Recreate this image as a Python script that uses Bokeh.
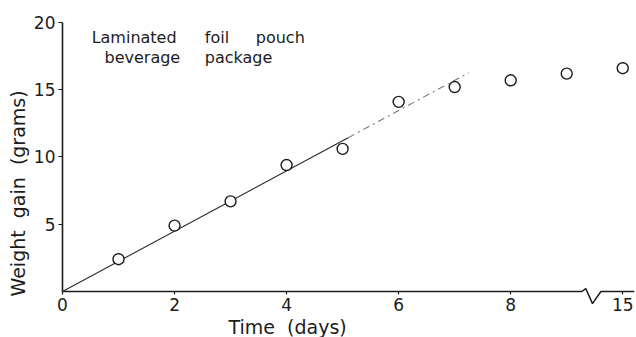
import numpy as np
from bokeh.plotting import figure
from bokeh.models import FixedTicker, Label, Range1d, Title
from bokeh.embed import file_html
from bokeh.resources import INLINE

# Weight gain of the laminated foil pouch over time
days = [1, 2, 3, 4, 5, 6, 7, 8, 9, 15]
gain = [2.4, 4.9, 6.7, 9.4, 10.6, 14.1, 15.2, 15.7, 16.2, 16.6]
x_tick_days = [0, 2, 4, 6, 8, 15]
y_ticks = [5, 10, 15, 20]

# linear (constant-rate) region used for the fitted line through the origin
linear_days = days[:7]
linear_gain = gain[:7]
fit_end_day = 7.25
fit_solid_until = 5.1

# the time axis is broken between 9 and 15 days
BREAK_DAY = 9.4
BREAK_SHIFT = 5.0


def axis_pos(d):
    d = np.asarray(d, dtype=float)
    return np.where(d > BREAK_DAY, d - BREAK_SHIFT, d)


FONT = "DejaVu Sans"
INK = "#1c1c1c"
SP = "\u00a0"

x_end = 10.21
y_start = -0.967   # leaves room under the time axis for the break mark
p = figure(width=636, height=337, output_backend="svg", toolbar_location=None,
           x_range=Range1d(0, x_end), y_range=Range1d(y_start, 20.89),
           min_border_left=62, min_border_right=2, min_border_top=10,
           min_border_bottom=33)
p.outline_line_color = None
p.xgrid.visible = False
p.ygrid.visible = False
p.background_fill_color = "white"

# y axis
ya = p.yaxis[0]
ya.ticker = FixedTicker(ticks=y_ticks)
ya.bounds = (0, 20)
ya.axis_line_color = INK
ya.axis_line_width = 1.6
ya.major_tick_in = 0
ya.major_tick_out = 4
ya.major_tick_line_color = INK
ya.major_tick_line_width = 1.2
ya.minor_tick_line_color = None
ya.major_label_text_font = FONT
ya.major_label_text_font_size = "17px"
ya.major_label_text_color = INK
ya.major_label_standoff = 3

# x axis: ticks reach up to the zero-gain line, the line itself is drawn below
xa = p.xaxis[0]
tick_pos = [float(v) for v in axis_pos(x_tick_days)]
xa.ticker = FixedTicker(ticks=tick_pos)
xa.major_label_overrides = {tp: str(d) for tp, d in zip(tick_pos, x_tick_days)}
xa.axis_line_color = None
xa.major_tick_in = 13
xa.major_tick_out = -10
xa.major_tick_line_color = INK
xa.major_tick_line_width = 1.2
xa.minor_tick_line_color = None
xa.major_label_text_font = FONT
xa.major_label_text_font_size = "17px"
xa.major_label_text_color = INK
xa.major_label_standoff = -7

# axis titles
p.add_layout(Title(text=f"Time{SP}{SP}(days)", align="left", offset=166,
                   standoff=0, text_font=FONT, text_font_size="19px",
                   text_font_style="normal", text_color=INK), "below")
p.add_layout(Title(text=f"Weight{SP}{SP}gain{SP}{SP}(grams)", align="left",
                   offset=8, standoff=4, text_font=FONT, text_font_size="19px",
                   text_font_style="normal", text_color=INK), "left")

# zero-gain axis line with a zig-zag break mark
b = float(axis_pos([BREAK_DAY - 0.13])[0])
axis_x = [0, b, b + 0.07, b + 0.19, b + 0.34, x_end]
axis_y = [0, 0, 0.22, -0.9, 0, 0]
p.line(axis_x, axis_y, line_color=INK, line_width=1.5)

# straight line through the origin fitted to the linear region
lx = np.asarray(linear_days, dtype=float)
ly = np.asarray(linear_gain, dtype=float)
slope = float((lx * ly).sum() / (lx * lx).sum())
p.line([0, fit_solid_until], [0, slope * fit_solid_until],
       line_color="#2a2a2a", line_width=1.1)
p.line([fit_solid_until, fit_end_day], [slope * fit_solid_until, slope * fit_end_day],
       line_color="#777777", line_width=1.1, line_dash="7 4 2 4")

# measured points
p.scatter(axis_pos(days), gain, marker="circle", size=11,
          fill_color="white", line_color=INK, line_width=1.4)

# annotation words
for word, x, y in [("Laminated", 0.52, 18.88), ("foil", 2.54, 18.88),
                   ("pouch", 3.45, 18.88), ("beverage", 0.75, 17.4),
                   ("package", 2.54, 17.4)]:
    p.add_layout(Label(x=x, y=y, text=word, text_font=FONT,
                       text_font_size="16px", text_color=INK,
                       text_baseline="alphabetic", text_align="left"))

open("out.html", "w").write(file_html(p, INLINE))
